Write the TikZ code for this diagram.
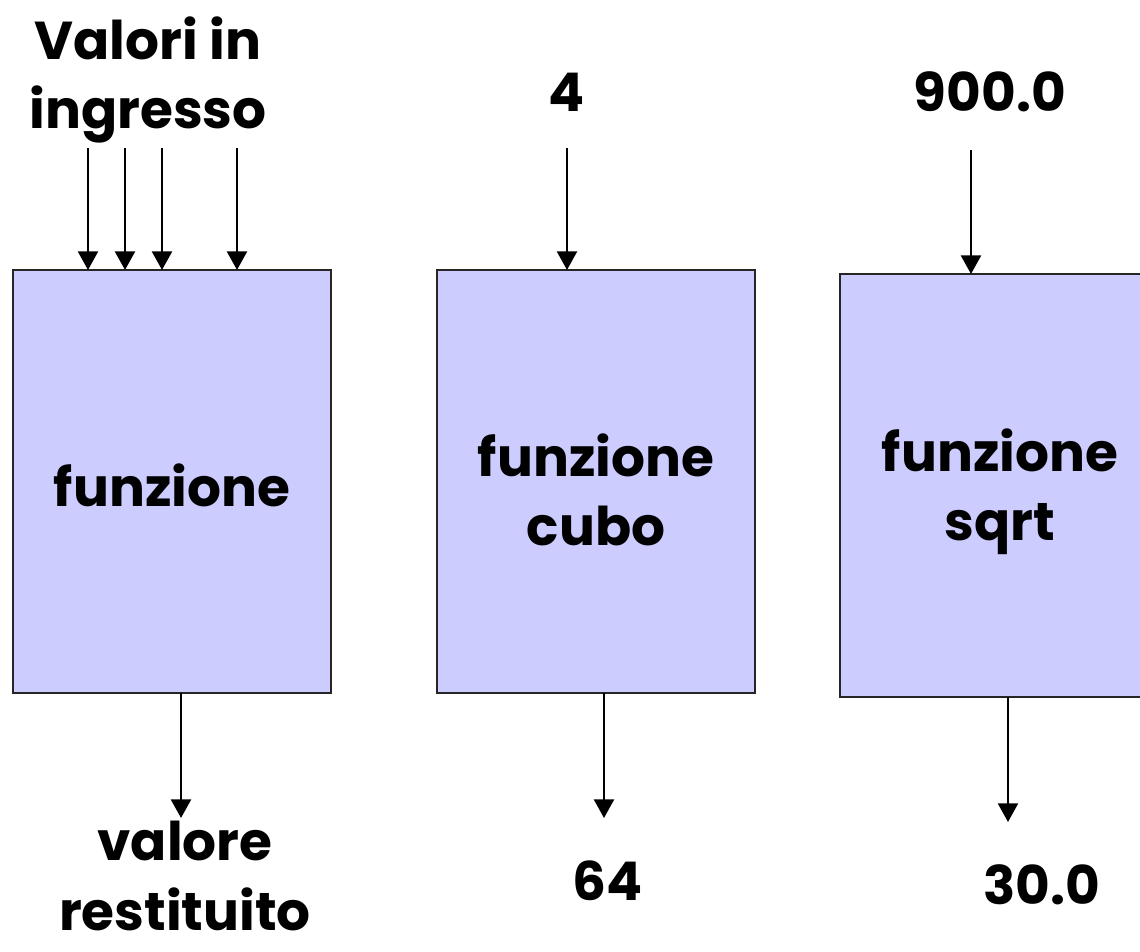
\documentclass[tikz,border=0pt]{standalone}
\usepackage{fontspec}
\setmainfont{Poppins}[BoldFont={* Bold}]
\usetikzlibrary{arrows.meta}
\begin{document}
\begin{tikzpicture}[x=0.75pt,y=-0.75pt,
  fbox/.style={draw=black!85,line width=1.6pt,fill={rgb,255:red,204;green,204;blue,255}},
  arr/.style={line width=1.8pt,-{Triangle[width=15pt,length=14pt]}},
  lbl/.style={font=\fontsize{40}{52}\selectfont\bfseries,align=center,inner sep=0pt}]
\useasboundingbox (0,0) rectangle (1140,951);
\clip (0,0) rectangle (1140,951);
% boxes
\draw[fbox] (13,270) rectangle (331,693);
\draw[fbox] (437,270) rectangle (755,693);
\draw[fbox] (840,274) rectangle (1160,697);
% named anchor coordinates
\coordinate (i1a) at (88,148);  \coordinate (t1a) at (88,270);
\coordinate (i1b) at (125,148); \coordinate (t1b) at (125,270);
\coordinate (i1c) at (162,148); \coordinate (t1c) at (162,270);
\coordinate (i1d) at (237,148); \coordinate (t1d) at (237,270);
\coordinate (o1s) at (181,693); \coordinate (o1e) at (181,818);
\coordinate (i2) at (567,148);  \coordinate (t2) at (567,270);
\coordinate (o2s) at (604,693); \coordinate (o2e) at (604,818);
\coordinate (i3) at (971,150);  \coordinate (t3) at (971,274);
\coordinate (o3s) at (1008,697); \coordinate (o3e) at (1008,822);
\draw[arr] (i1a) -- (t1a);
\draw[arr] (i1b) -- (t1b);
\draw[arr] (i1c) -- (t1c);
\draw[arr] (i1d) -- (t1d);
\draw[arr] (o1s) -- (o1e);
\draw[arr] (i2) -- (t2);
\draw[arr] (o2s) -- (o2e);
\draw[arr] (i3) -- (t3);
\draw[arr] (o3s) -- (o3e);
% labels
\node[lbl] (tin) at (148,80) {Valori in\\ingresso};
\node[lbl] (tf1) at (172,485) {funzione};
\node[lbl] (tf2) at (596,490) {funzione\\cubo};
\node[lbl] (tf3) at (1000,492) {funzione\\sqrt};
\node[lbl] (t4) at (567,92) {4};
\node[lbl] (t900) at (990,92) {900.0};
\node[lbl] (tval) at (185,876) {valore\\restituito};
\node[lbl] (t64) at (608,881) {64};
\node[lbl] (t30) at (1042,885) {30.0};
\end{tikzpicture}
\end{document}
